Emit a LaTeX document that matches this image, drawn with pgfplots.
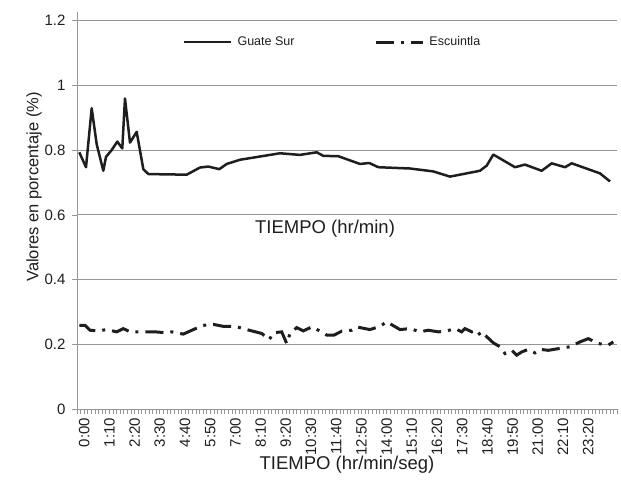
\documentclass[border=0pt]{standalone}
\usepackage{fontspec}
\setmainfont{Liberation Sans}
\usepackage{pgfplots}
\pgfplotsset{compat=1.18}

\definecolor{gridgray}{RGB}{150,150,150}
\definecolor{ink}{RGB}{30,30,30}

\begin{document}
\begin{tikzpicture}
\begin{axis}[
    scale only axis,
    width=540bp, height=397bp,
    xmin=-2, xmax=148,
    ymin=0, ymax=1.225,
    clip=false,
    axis lines*=left,
    axis line style={gridgray, line width=0.8bp},
    ymajorgrids,
    grid style={gridgray, line width=0.8bp},
    ytick={0,0.2,0.4,0.6,0.8,1,1.2},
    xtick={0,7,...,140},
    xticklabels={0:00,1:10,2:20,3:30,4:40,5:50,7:00,8:10,9:20,10:30,11:40,12:50,14:00,15:10,16:20,17:30,18:40,19:50,21:00,22:10,23:20},
    minor xtick={-2,...,148},
    tick align=outside,
    major tick length=5bp,
    minor tick length=5bp,
    tick style={gridgray, line width=0.6bp},
    /pgf/number format/assume math mode=true,
    yticklabel style={font=\fontsize{15bp}{17bp}\selectfont, text=ink, xshift=-3bp},
    xticklabel style={font=\fontsize{15bp}{17bp}\selectfont, text=ink, rotate=90, anchor=east},
    xlabel={TIEMPO (hr/min/seg)},
    xlabel style={font=\fontsize{18.5bp}{20bp}\selectfont, text=ink, yshift=6bp},
    ylabel={Valores en porcentaje (\%)},
    every axis y label/.append style={at={(ticklabel cs:0.56)}},
    ylabel style={font=\fontsize{16.5bp}{18bp}\selectfont, text=ink, yshift=-4bp},
    legend columns=2,
    legend cell align=left,
    legend style={draw=none, fill=none, inner sep=0pt, at={(0.196,0.925)}, anchor=west,
        font=\fontsize{12.5bp}{15bp}\selectfont, text=ink,
        /tikz/every even column/.append style={column sep=78bp}},
    legend image code/.code={\draw[#1] (0bp,0bp) -- (47bp,0bp); \path (50bp,0bp);},
]
% Guate Sur
\addplot[ink, line width=2.5bp, line join=round] coordinates {
(-1.36,0.793) (0.5,0.747) (2.08,0.929) (3.47,0.818) (5.31,0.736) (6.06,0.779)
(7.64,0.800) (9.19,0.826) (10.58,0.805) (11.33,0.959) (12.72,0.823) (14.58,0.856)
(16.42,0.741) (17.81,0.726) (22,0.725) (28.47,0.724) (32.17,0.746) (34.47,0.749)
(37.53,0.741) (39.58,0.757) (43.28,0.770) (48.83,0.780) (54.39,0.790) (59.94,0.785)
(64.58,0.793) (66.42,0.782) (70.58,0.781) (76.61,0.757) (79.19,0.760) (81.69,0.747)
(90.5,0.743) (96.97,0.734) (101.61,0.718) (109.94,0.736) (111.81,0.752) (113.64,0.786)
(119.67,0.747) (122.44,0.755) (127.08,0.736) (129.86,0.759) (133.56,0.747) (135.42,0.759)
(143.28,0.728) (146.06,0.703)
};
\addlegendentry{Guate Sur}
% Escuintla
\addplot[ink, line width=3bp, dash pattern=on 18bp off 7bp on 3bp off 7bp] coordinates {
(-1.36,0.259) (0.22,0.259) (1.61,0.244) (3.92,0.242) (6.25,0.246) (9.03,0.239)
(10.86,0.249) (12.72,0.239) (16.89,0.239) (19.67,0.239) (22.92,0.236) (24.31,0.239)
(27.53,0.232) (30.31,0.246) (33.08,0.259) (35.86,0.262) (38.64,0.256) (41.89,0.256)
(44.19,0.249) (46.53,0.242) (49.31,0.234) (51.42,0.215) (52.53,0.236) (54.86,0.239)
(56.25,0.203) (57.17,0.234) (59.03,0.252) (60.86,0.242) (63.19,0.254) (65.97,0.239)
(67.36,0.229) (69.39,0.229) (71.53,0.241) (74.31,0.244) (75.69,0.254) (79.39,0.246)
(82.17,0.256) (84.03,0.270) (87.72,0.246) (90.5,0.249) (93.28,0.239) (95.58,0.244)
(98.36,0.239) (100.5,0.241) (103.0,0.249) (104.86,0.239) (105.78,0.249) (107.64,0.239)
(109.03,0.244) (110.42,0.223) (111.33,0.229) (113.64,0.205) (115.5,0.193) (116.89,0.172)
(118.75,0.182) (120.14,0.167) (121.53,0.177) (123.36,0.185) (125.22,0.174) (126.61,0.185)
(128.92,0.182) (132.17,0.188) (134.94,0.193) (137.72,0.208) (140.03,0.218) (142.81,0.203)
(145.58,0.198) (146.97,0.208)
};
\addlegendentry{Escuintla}
\node[font=\fontsize{18.5bp}{20bp}\selectfont, text=ink] at (axis cs:66.9,0.558) {TIEMPO (hr/min)};
\path (rel axis cs:0,0) ++(-77bp,-74.7bp) rectangle ++(621bp,484bp);
\end{axis}
\end{tikzpicture}
\end{document}
